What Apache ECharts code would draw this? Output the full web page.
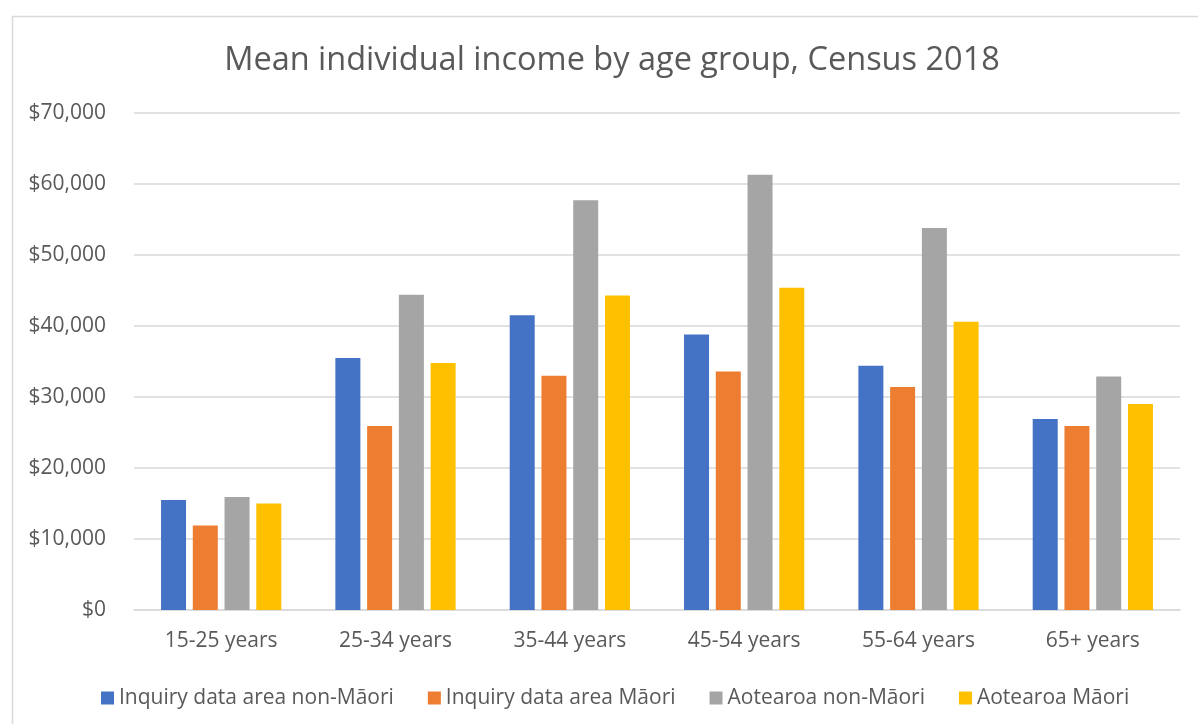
<!DOCTYPE html>
<html>
<head>
<meta charset="utf-8">
<title>Mean individual income by age group, Census 2018</title>
<script src="https://cdn.jsdelivr.net/npm/echarts@6/dist/echarts.min.js"></script>
<style>
  html, body { margin: 0; padding: 0; background: #ffffff; }
  #chart { width: 1198px; height: 724px; }
</style>
</head>
<body>
<div id="chart"></div>
<script>
// Age groups on the x axis
const ageGroups = ['15-25 years', '25-34 years', '35-44 years', '45-54 years', '55-64 years', '65+ years'];

// Mean individual income (NZ$) per group
const inquiryNonMaori = [15500, 35500, 41500, 38800, 34400, 26900];
const inquiryMaori    = [11900, 25900, 33000, 33600, 31400, 25900];
const aotearoaNonMaori = [15900, 44400, 57700, 61300, 53800, 32900];
const aotearoaMaori    = [15000, 34800, 44300, 45400, 40600, 29000];

const seriesNames = [
  'Inquiry data area non-Māori',
  'Inquiry data area Māori',
  'Aotearoa non-Māori',
  'Aotearoa Māori'
];
const seriesColors = ['#4472C4', '#ED7D31', '#A5A5A5', '#FFC000'];
const seriesValues = [inquiryNonMaori, inquiryMaori, aotearoaNonMaori, aotearoaMaori];

// y axis range
const yMin = 0, yMax = 70000, yStep = 10000;

const FONT = 'Open Sans';
const TEXT = '#595959';
const GRID = '#D9D9D9';

function money(v) {
  return '$' + String(Math.round(v)).replace(/\B(?=(\d{3})+(?!\d))/g, ',');
}

const chart = echarts.init(document.getElementById('chart'), null, { renderer: 'canvas' });

chart.setOption({
  backgroundColor: '#ffffff',
  animation: false,
  textStyle: { fontFamily: FONT },
  title: {
    text: 'Mean individual income by age group, Census 2018',
    left: 607,
    textAlign: 'center',
    top: 39,
    textStyle: { fontFamily: FONT, fontSize: 32.5, fontWeight: 'normal', color: TEXT }
  },
  graphic: [{
    type: 'rect',
    left: 10, top: 14,
    shape: { width: 1220, height: 740 },
    style: { fill: 'none', stroke: GRID, lineWidth: 1.5 },
    silent: true
  }],
  legend: {
    data: seriesNames,
    left: 96,
    top: 682,
    itemWidth: 13,
    itemHeight: 13,
    itemGap: 34,
    icon: 'rect',
    textStyle: { fontFamily: FONT, fontSize: 21, color: TEXT, lineHeight: 22 }
  },
  grid: { left: 134, right: 18, top: 113, bottom: 114, containLabel: false },
  xAxis: {
    type: 'category',
    data: ageGroups,
    axisLine: { show: true, lineStyle: { color: GRID, width: 1.5 } },
    axisTick: { show: false },
    axisLabel: { margin: 21, fontFamily: FONT, fontSize: 21, color: TEXT }
  },
  yAxis: {
    type: 'value',
    min: yMin, max: yMax, interval: yStep,
    axisLine: { show: false },
    axisTick: { show: false },
    splitLine: { lineStyle: { color: GRID, width: 1.5 } },
    axisLabel: { margin: 28, fontFamily: FONT, fontSize: 21, color: TEXT, formatter: money }
  },
  series: seriesNames.map((name, i) => ({
    name: name,
    type: 'bar',
    data: seriesValues[i],
    barWidth: 25,
    barGap: '27%',
    itemStyle: { color: seriesColors[i] }
  }))
});
</script>
</body>
</html>
